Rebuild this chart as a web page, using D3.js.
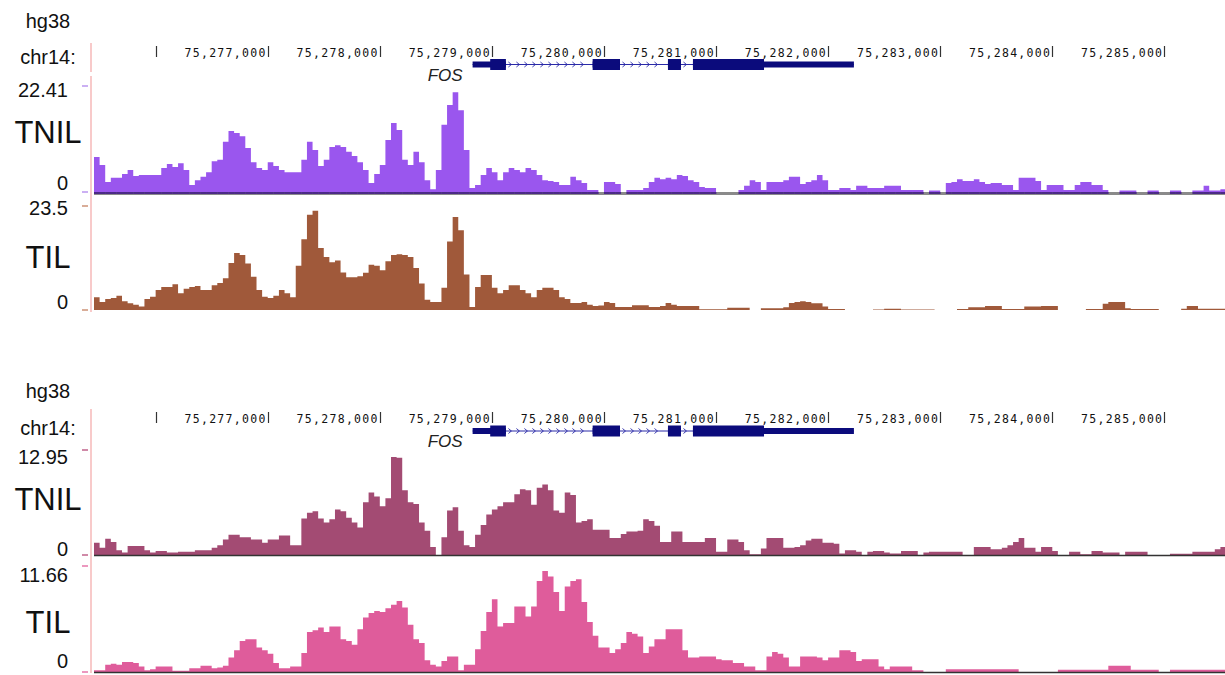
<!DOCTYPE html>
<html>
<head>
<meta charset="utf-8">
<script src="https://cdn.jsdelivr.net/npm/d3@7"></script>
<style>
  body { margin: 0; background: #fff; }
  svg { display: block; }
</style>
</head>
<body>
<div id="chart"></div>
<script>
// genomic window, 50 bp bins
const BIN_START = 75275450
const BIN_SIZE = 50

const rulerTicks = [75276000, 75277000, 75278000, 75279000, 75280000, 75281000, 75282000, 75283000, 75284000, 75285000]

// FOS (hg38)
const geneName = 'FOS'
const geneExons = [[75278828, 75279125], [75279899, 75280143], [75280571, 75280687], [75280794, 75282230]]
const geneCds = [75278985, 75281428]

// panel 1
const tnilTop = [
  7.4, 5.7, 2.1, 3.0, 3.0, 3.8, 4.65, 3.4, 3.6, 3.6,
  3.6, 3.6, 5.1, 5.9, 5.3, 6.1, 4.65, 1.5, 2.5, 3.2,
  4.2, 6.5, 6.8, 10.6, 12.9, 12.5, 11.8, 9.3, 6.3, 5.1,
  4.65, 6.3, 5.5, 4.65, 4.2, 4.2, 4.2, 6.8, 10.6, 8.9,
  5.5, 6.8, 9.5, 9.9, 9.5, 8.5, 7.6, 6.3, 4.65, 1.9,
  3.8, 5.7, 11.0, 14.6, 13.1, 6.8, 5.7, 8.5, 6.3, 2.5,
  0.6, 4.65, 14.2, 18.4, 21.1, 17.3, 8.9, 0.85, 1.5, 3.6,
  5.1, 4.2, 2.5, 4.2, 5.1, 4.65, 4.2, 5.1, 4.65, 3.6,
  2.5, 2.3, 2.1, 1.5, 1.5, 3.2, 2.5, 1.9, 0.4, 0.4,
  0, 2.1, 2.1, 1.7, 0, 0.4, 0.4, 0.4, 0.85, 2.1,
  3.0, 2.7, 3.0, 2.7, 3.6, 3.4, 2.5, 2.1, 1.05, 0.85,
  0.85, 0, 0, 0, 0, 0.4, 1.3, 2.5, 2.1, 0.4,
  2.1, 2.1, 2.1, 2.5, 3.2, 3.2, 1.7, 2.1, 2.5, 3.6,
  2.5, 0.4, 0.4, 0.85, 0.85, 0.4, 1.3, 1.3, 0.85, 0.85,
  0.85, 1.3, 1.3, 1.3, 0.4, 0.4, 0.4, 0.4, 0, 0.3,
  0.3, 0, 1.9, 2.1, 2.7, 2.3, 2.3, 2.7, 2.1, 1.7,
  1.9, 1.9, 1.5, 1.5, 0.4, 3.0, 3.0, 3.0, 2.3, 0.4,
  1.5, 1.5, 1.5, 0.4, 0.4, 1.5, 2.1, 2.1, 1.5, 1.5,
  0.4, 0, 0, 0.3, 0.3, 0.3, 0, 0, 0.3, 0.3,
  0, 0, 0.3, 0.3, 0, 0, 0.3, 0.3, 1.3, 0.3,
  0.3, 0.6
]
const tilTop = [
  2.9, 1.8, 2.5, 2.7, 3.2, 2.0, 1.5, 1.2, 0.8, 2.5,
  3.0, 4.5, 5.2, 5.2, 5.8, 3.8, 4.8, 5.2, 5.4, 4.5,
  4.5, 5.6, 6.1, 7.2, 10.6, 12.9, 12.4, 10.5, 7.5, 4.5,
  3.0, 2.7, 3.2, 4.5, 3.8, 2.9, 10.0, 16.0, 21.5, 22.4,
  14.0, 12.0, 10.8, 11.2, 8.5, 7.4, 7.4, 7.6, 8.4, 10.2,
  10.0, 9.0, 11.0, 12.4, 12.6, 12.4, 12.0, 9.5, 6.0, 2.3,
  1.8, 1.8, 5.0, 15.5, 21.0, 18.0, 8.0, 0.7, 5.2, 7.9,
  7.9, 5.0, 3.8, 4.5, 5.6, 5.6, 4.5, 3.8, 2.9, 4.5,
  5.0, 5.0, 4.5, 2.9, 2.5, 1.6, 1.6, 1.8, 1.2, 0.9,
  1.0, 1.8, 1.6, 0.7, 0.7, 0.7, 1.1, 1.1, 1.1, 0.7,
  0.7, 0.9, 1.6, 1.2, 0.9, 0.9, 0.9, 0.9, 0.15, 0.15,
  0.15, 0.15, 0.15, 0.5, 0.5, 0.5, 0.5, 0, 0, 0.4,
  0.4, 0.4, 0.4, 0.6, 1.6, 1.8, 2.0, 1.8, 1.5, 1.5,
  0.8, 0.2, 0.2, 0.2, 0, 0, 0, 0, 0, 0.1,
  0.1, 0.3, 0.3, 0.3, 0.1, 0.1, 0.1, 0.1, 0.1, 0.1,
  0, 0, 0, 0, 0.2, 0.2, 0.6, 0.6, 0.6, 0.9,
  0.9, 0.9, 0.2, 0.2, 0.2, 0.2, 0.8, 0.8, 0.8, 0.9,
  0.9, 0.9, 0, 0, 0, 0, 0, 0.2, 0.2, 0.2,
  1.4, 1.8, 1.8, 1.8, 0.4, 0.2, 0.2, 0.2, 0.2, 0.2,
  0, 0, 0, 0, 0.3, 0.9, 0.9, 0.3, 0.3, 0.3,
  0.3, 0.3
]

// panel 2
const tnilBottom = [
  1.5, 0.9, 2.0, 1.6, 0.6, 0.3, 1.1, 1.1, 1.1, 0.6,
  0.3, 0.5, 0.5, 0.3, 0.3, 0.4, 0.4, 0.4, 0.6, 0.6,
  0.6, 0.9, 1.2, 1.9, 2.5, 2.5, 2.2, 2.2, 1.9, 1.9,
  1.5, 1.9, 1.9, 2.4, 2.4, 1.2, 1.2, 4.5, 5.2, 5.4,
  4.5, 4.0, 4.4, 5.6, 5.4, 4.6, 4.0, 3.4, 6.5, 7.7,
  7.2, 6.0, 7.0, 12.1, 12.0, 8.0, 6.5, 6.3, 4.0, 3.0,
  1.0, 0, 2.2, 5.5, 5.9, 3.0, 1.2, 1.0, 2.5, 3.7,
  5.0, 5.6, 6.0, 6.5, 6.5, 7.5, 8.1, 8.0, 6.2, 8.3,
  8.7, 8.0, 5.5, 5.2, 7.7, 7.4, 4.0, 4.2, 4.4, 3.1,
  3.1, 3.1, 2.1, 2.1, 2.6, 2.9, 2.9, 3.0, 4.4, 4.2,
  3.6, 1.6, 1.6, 2.9, 2.9, 1.6, 1.6, 1.6, 1.6, 2.1,
  2.1, 0.4, 0.4, 1.9, 1.9, 1.6, 0.6, 0.1, 0.1, 0.8,
  2.1, 2.1, 2.1, 0.9, 0.9, 1.0, 1.2, 1.8, 2.0, 2.0,
  1.5, 1.5, 1.4, 0.2, 0.6, 0.6, 0.4, 0, 0.4, 0.5,
  0.5, 0.3, 0.2, 0.2, 0.5, 0.5, 0.5, 0, 0.3, 0.4,
  0.4, 0.4, 0.4, 0.4, 0.4, 0, 0, 1.0, 1.0, 1.0,
  0.7, 0.7, 0.9, 1.2, 1.6, 2.1, 0.9, 0.9, 0.4, 1.0,
  1.0, 0.5, 0, 0, 0.4, 0.4, 0.1, 0.1, 0.5, 0.5,
  0.3, 0.3, 0.3, 0, 0.4, 0.4, 0.4, 0.4, 0, 0,
  0, 0, 0.15, 0.15, 0.15, 0.15, 0.4, 0.4, 0.4, 0.4,
  0.7, 1.0
]
const tilBottom = [
  0.2, 0.2, 0.8, 0.9, 0.8, 1.1, 1.1, 1.0, 0.6, 0.2,
  0.3, 0.6, 0.6, 0.6, 0.15, 0.15, 0.15, 0.4, 0.4, 0.7,
  0.7, 0.4, 0.5, 0.7, 1.6, 2.4, 3.4, 3.6, 3.6, 2.7,
  2.4, 2.0, 1.0, 0.4, 0.4, 0.6, 0.6, 2.1, 4.4, 4.6,
  4.9, 4.4, 5.0, 5.0, 3.6, 3.4, 3.0, 4.7, 6.0, 6.5,
  6.7, 6.6, 7.0, 7.4, 7.8, 7.1, 5.2, 3.6, 3.2, 1.3,
  0.8, 0.6, 1.2, 1.7, 1.7, 0.2, 0.8, 0.8, 2.5, 4.5,
  6.6, 8.0, 5.0, 5.4, 5.4, 7.2, 7.2, 6.1, 7.2, 10.0,
  11.1, 10.5, 8.8, 6.7, 9.4, 10.0, 10.2, 7.7, 5.5, 4.0,
  2.7, 2.7, 2.1, 2.5, 3.2, 4.4, 4.2, 3.9, 2.1, 2.8,
  3.6, 3.6, 4.7, 4.7, 4.7, 2.4, 1.6, 1.6, 1.7, 1.7,
  1.7, 1.4, 1.3, 1.3, 1.0, 1.0, 0.6, 0.6, 0.2, 0.2,
  1.7, 2.2, 2.0, 1.6, 0.6, 0.6, 1.7, 1.7, 1.7, 1.6,
  1.3, 1.6, 1.6, 2.4, 2.4, 2.2, 1.2, 1.4, 1.4, 1.4,
  0.6, 0.3, 0.6, 0.6, 0.6, 0.6, 0.2, 0.2, 0, 0,
  0, 0, 0.3, 0.3, 0.3, 0.3, 0.3, 0.3, 0.3, 0.3,
  0.3, 0.3, 0.3, 0.3, 0.3, 0, 0, 0, 0, 0,
  0, 0, 0.25, 0.25, 0.25, 0.25, 0.25, 0.25, 0.25, 0.25,
  0.25, 0.7, 0.7, 0.7, 0.7, 0.25, 0.25, 0.25, 0.25, 0.25,
  0, 0, 0.25, 0.25, 0.25, 0.25, 0.25, 0.25, 0.25, 0.25,
  0.25, 0.25
]

const WIDTH = 1225
const HEIGHT = 675
const LEFT = 94
const LABEL_FONT = "'Liberation Sans', Arial, sans-serif"
const RULER_FONT = "'DejaVu Sans Mono', monospace"

const panels = [
  {
    hgY: 28, chrY: 64, rulerTop: 46, rulerY: 57, geneY: 64.5, fosY: 81,
    pink: [[43, 72], [76, 312]],
    tracks: [
      { name: 'TNIL', values: tnilTop, max: 22.41, label: '22.41', color: '#9a56ee', tick: '#cbb0f3', dark: '#4b2a86',
        top: 86, base: 192, maxY: 97, nameY: 143, zeroY: 190, baseline: 'igv' },
      { name: 'TIL', values: tilTop, max: 23.5, label: '23.5', color: '#a0593a', tick: '#d9ad98',
        top: 206, base: 310, maxY: 215, nameY: 268, zeroY: 309, baseline: 'none' }
    ]
  },
  {
    hgY: 398, chrY: 435, rulerTop: 412, rulerY: 423, geneY: 431, fosY: 447,
    pink: [[409, 673]],
    tracks: [
      { name: 'TNIL', values: tnilBottom, max: 12.95, label: '12.95', color: '#a34b73', tick: '#d08aa8',
        top: 450, base: 555, maxY: 464, nameY: 510, zeroY: 556, baseline: 'line' },
      { name: 'TIL', values: tilBottom, max: 11.66, label: '11.66', color: '#df5c9b', tick: '#ec98bf',
        top: 566, base: 672, maxY: 582, nameY: 633, zeroY: 668, baseline: 'line' }
    ]
  }
]

const svg = d3.select('#chart').append('svg')
  .attr('width', WIDTH)
  .attr('height', HEIGHT)

svg.append('rect').attr('width', WIDTH).attr('height', HEIGHT).attr('fill', '#fff')

const nBins = tnilTop.length
const x = d3.scaleLinear()
  .domain([BIN_START, BIN_START + nBins * BIN_SIZE])
  .range([LEFT, LEFT + nBins * BIN_SIZE * 0.11208])

panels.forEach(p => {
  const g = svg.append('g')

  // left pink border
  p.pink.forEach(([a, b]) => {
    g.append('line')
      .attr('x1', 91).attr('x2', 91).attr('y1', a).attr('y2', b)
      .attr('stroke', '#f8caca').attr('stroke-width', 2)
  })

  g.append('text')
    .attr('x', 48).attr('y', p.hgY)
    .attr('text-anchor', 'middle')
    .style('font', `20px ${LABEL_FONT}`)
    .attr('fill', '#111')
    .text('hg38')
  g.append('text')
    .attr('x', 48).attr('y', p.chrY)
    .attr('text-anchor', 'middle')
    .style('font', `20px ${LABEL_FONT}`)
    .attr('fill', '#111')
    .text('chr14:')

  // ruler
  const ruler = g.append('g')
  ruler.selectAll('line')
    .data(rulerTicks)
    .join('line')
    .attr('x1', d => Math.round(x(d)) + 0.5)
    .attr('x2', d => Math.round(x(d)) + 0.5)
    .attr('y1', p.rulerTop)
    .attr('y2', p.rulerY)
    .attr('stroke', '#333')
    .attr('stroke-width', 1.2)
  ruler.selectAll('text')
    .data(rulerTicks.filter(d => x(d) - 90 > LEFT))
    .join('text')
    .attr('x', d => x(d) - 1)
    .attr('y', p.rulerY)
    .attr('text-anchor', 'end')
    .style('font', `11.5px ${RULER_FONT}`)
    .style('letter-spacing', '1.3px')
    .attr('fill', '#111')
    .text(d => d3.format(',')(d))

  // gene model
  const gene = g.append('g').attr('fill', '#0b0b7c')
  const txStart = geneExons[0][0]
  const txEnd = geneExons[geneExons.length - 1][1]
  gene.append('line')
    .attr('x1', x(txStart)).attr('x2', x(txEnd))
    .attr('y1', p.geneY).attr('y2', p.geneY)
    .attr('stroke', '#2a2aa8').attr('stroke-width', 1)
  // strand chevrons in introns
  for (let k = 0; k < geneExons.length - 1; k++) {
    const a = x(geneExons[k][1]) + 4
    const b = x(geneExons[k + 1][0]) - 4
    for (let cx = a; cx <= b; cx += 8) {
      gene.append('path')
        .attr('d', `M${cx - 1.5},${p.geneY - 2.5}L${cx + 1.5},${p.geneY}L${cx - 1.5},${p.geneY + 2.5}`)
        .attr('fill', 'none')
        .attr('stroke', '#2a2aa8')
        .attr('stroke-width', 0.9)
    }
  }
  geneExons.forEach(([s, e]) => {
    // utr parts thin, coding parts thick
    const cs = Math.max(s, geneCds[0])
    const ce = Math.min(e, geneCds[1])
    gene.append('rect')
      .attr('x', x(s)).attr('width', x(e) - x(s))
      .attr('y', p.geneY - 3).attr('height', 6)
    if (ce > cs) {
      gene.append('rect')
        .attr('x', x(cs)).attr('width', x(ce) - x(cs))
        .attr('y', p.geneY - 5.5).attr('height', 11)
    }
  })
  g.append('text')
    .attr('x', x(txStart) - 10)
    .attr('y', p.fosY)
    .attr('text-anchor', 'end')
    .style('font', `italic 17px ${LABEL_FONT}`)
    .attr('fill', '#222')
    .text(geneName)

  // signal tracks
  p.tracks.forEach(t => {
    const y = d3.scaleLinear().domain([0, t.max]).range([t.base, t.top])
    const pts = t.values.map((v, i) => ({ pos: BIN_START + i * BIN_SIZE, v }))
    pts.push({ pos: BIN_START + t.values.length * BIN_SIZE, v: t.values[t.values.length - 1] })

    const area = d3.area()
      .curve(d3.curveStepAfter)
      .x(d => x(d.pos))
      .y0(y(0))
      .y1(d => y(d.v))

    if (t.baseline === 'igv') {
      g.append('rect')
        .attr('x', LEFT).attr('width', WIDTH - LEFT)
        .attr('y', t.base).attr('height', 3)
        .attr('fill', '#8a8a8a')
    }

    g.append('path')
      .datum(pts)
      .attr('d', area)
      .attr('fill', t.color)

    if (t.baseline === 'igv') {
      g.append('g')
        .selectAll('rect')
        .data(pts.slice(0, -1).filter(d => d.v > 0))
        .join('rect')
        .attr('x', d => x(d.pos))
        .attr('width', x(BIN_START + BIN_SIZE) - x(BIN_START) + 0.3)
        .attr('y', t.base)
        .attr('height', 2)
        .attr('fill', t.dark)
    } else if (t.baseline === 'line') {
      g.append('line')
        .attr('x1', LEFT).attr('x2', WIDTH)
        .attr('y1', t.base + 0.5).attr('y2', t.base + 0.5)
        .attr('stroke', '#333').attr('stroke-width', 1.6)
    }

    // data range ticks
    g.selectAll(null)
      .data([t.top, t.base])
      .join('line')
      .attr('x1', 82).attr('x2', 88)
      .attr('y1', d => d).attr('y2', d => d)
      .attr('stroke', t.tick).attr('stroke-width', 2)

    g.append('text')
      .attr('x', 68).attr('y', t.maxY)
      .attr('text-anchor', 'end')
      .style('font', `20px ${LABEL_FONT}`)
      .attr('fill', '#111')
      .text(t.label)
    g.append('text')
      .attr('x', 68).attr('y', t.zeroY)
      .attr('text-anchor', 'end')
      .style('font', `20px ${LABEL_FONT}`)
      .attr('fill', '#111')
      .text('0')
    g.append('text')
      .attr('x', 48).attr('y', t.nameY)
      .attr('text-anchor', 'middle')
      .style('font', `31px ${LABEL_FONT}`)
      .attr('fill', '#111')
      .text(t.name)
  })
})
</script>
</body>
</html>
